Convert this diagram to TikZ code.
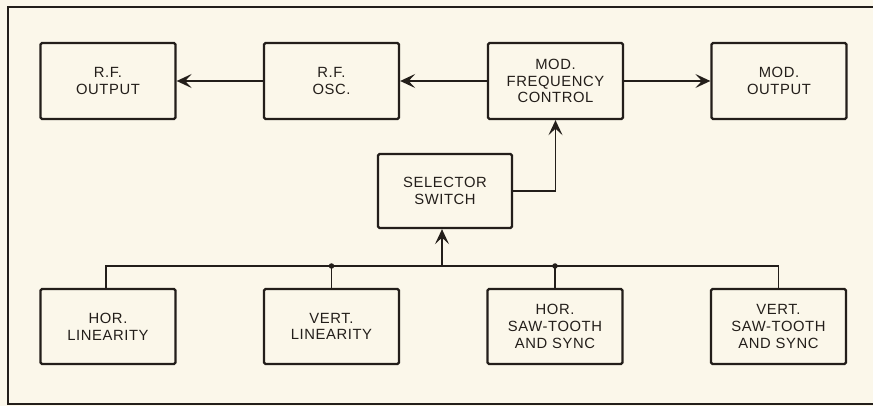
\documentclass[tikz,border=0pt]{standalone}
\usepackage{fontspec}
\setmainfont{Liberation Sans}[LetterSpace=4]
\usetikzlibrary{arrows.meta}
\definecolor{paper}{HTML}{FBF7EA}
\definecolor{ink}{HTML}{231E1A}
\begin{document}
\begin{tikzpicture}[x=1pt,y=-1pt,
  blk/.style={draw=ink, line width=2.3pt, rounded corners=1.5pt, minimum width=135pt, minimum height=76pt,
    align=center, font=\fontsize{14.8}{16.8}\selectfont, text=ink, inner sep=0pt},
  wire/.style={draw=ink, line width=1.7pt},
  arr/.style={wire, -{Stealth[length=15pt,width=14pt,inset=6.5pt]}},
  jdot/.style={circle, fill=ink, inner sep=0pt, minimum size=5.5pt}]
\fill[paper] (0,0) rectangle (873,406);
\useasboundingbox (0,0) rectangle (873,406);
% frame
\draw[ink, line width=2pt] (873,7) -- (8,7) -- (8,404) -- (873,404);
% top row
\node[blk] (rfout) at (108,81) {R.F.\\OUTPUT};
\node[blk] (rfosc) at (331.5,81) {R.F.\\OSC.};
\node[blk] (mfc) at (555.5,81) {MOD.\\FREQUENCY\\CONTROL};
\node[blk] (mout) at (779,81) {MOD.\\OUTPUT};
% selector
\node[blk, minimum width=134pt, minimum height=74pt] (sel) at (445,191) {SELECTOR\\SWITCH};
% bottom row
\node[blk, minimum height=75pt] (hl) at (108,326.5) {HOR.\\LINEARITY};
\node[blk, minimum height=75pt] (vl) at (331.5,326.5) {VERT.\\LINEARITY};
\node[blk, minimum height=75pt] (hs) at (555,326.5) {HOR.\\SAW-TOOTH\\AND SYNC};
\node[blk, minimum height=75pt] (vs) at (778.5,326.5) {VERT.\\SAW-TOOTH\\AND SYNC};
% top connectors
\draw[arr] (rfosc.west) -- (rfout.east);
\draw[arr] (mfc.west) -- (rfosc.east);
\draw[arr] (mfc.east) -- (mout.west);
\draw[arr] (sel.east) -| (mfc.south);
% bus
\coordinate (busL) at (106,266);
\coordinate (busR) at (778.5,266);
\coordinate (j1) at (331.5,266);
\coordinate (j2) at (555,266);
\coordinate (jsel) at (442,266);
\draw[wire] (hl.north -| busL) -- (busL) -- (busR) -- (vs.north);
\draw[wire] (j1) -- (vl.north);
\draw[wire] (j2) -- (hs.north);
\draw[arr] (jsel) -- (jsel |- sel.south);
\node[jdot] (d1) at (j1) {};
\node[jdot] (d2) at (j2) {};
\end{tikzpicture}
\end{document}
